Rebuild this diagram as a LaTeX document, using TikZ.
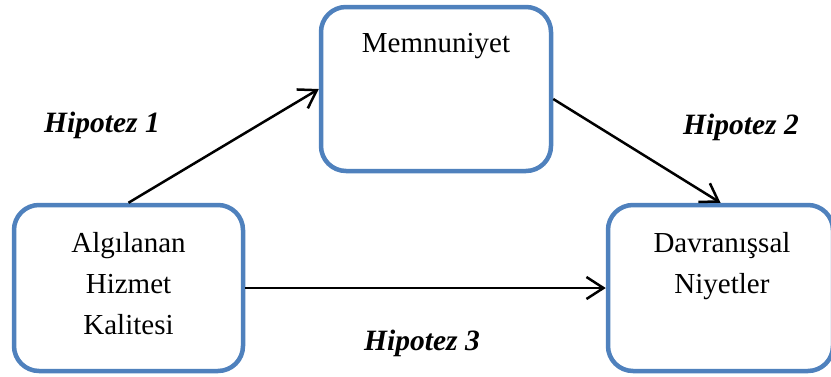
\documentclass[tikz,border=0pt]{standalone}
\usepackage{fontspec}
\setmainfont{Liberation Serif}
\usetikzlibrary{arrows.meta}
\definecolor{boxblue}{HTML}{4F81BD}
\begin{document}
\begin{tikzpicture}[x=1pt,y=-1pt,
  box/.style={draw=boxblue,line width=4.5pt,rounded corners=25pt,fill=white,inner sep=0pt},
  txt/.style={font=\fontsize{29}{41}\selectfont,align=center,inner sep=0pt,anchor=north},
  hyp/.style={font=\fontsize{29.5}{34}\selectfont\bfseries\itshape,inner sep=0pt},
  conn/.style={line width=2.5pt,-{Straight Barb[length=17pt,width=22pt,line width=2.5pt]}}]
\useasboundingbox (0,0) rectangle (831,376);
\node[box,minimum width=230pt,minimum height=164pt] (memn) at (436,89) {};
\node[box,minimum width=229pt,minimum height=166pt] (alg) at (128.5,288) {};
\node[box,minimum width=225pt,minimum height=166pt] (davr) at (720.5,288) {};
\node[txt] (memnt) at (436,33) {Memnuniyet};
\node[txt] (algt) at (128.5,232) {Algılanan\\Hizmet\\Kalitesi};
\node[txt] (davrt) at (722,232) {Davranışsal\\Niyetler};
\node[hyp] (h1) at (102,125) {Hipotez 1};
\node[hyp] (h2) at (741,127) {Hipotez 2};
\node[hyp] (h3) at (422,343) {Hipotez 3};
\draw[conn] (alg.north) -- (memn.west);
\draw[conn] ([yshift=-10pt]memn.east) -- (davr.north);
\draw[conn] (alg.east) -- (davr.west);
\end{tikzpicture}
\end{document}
